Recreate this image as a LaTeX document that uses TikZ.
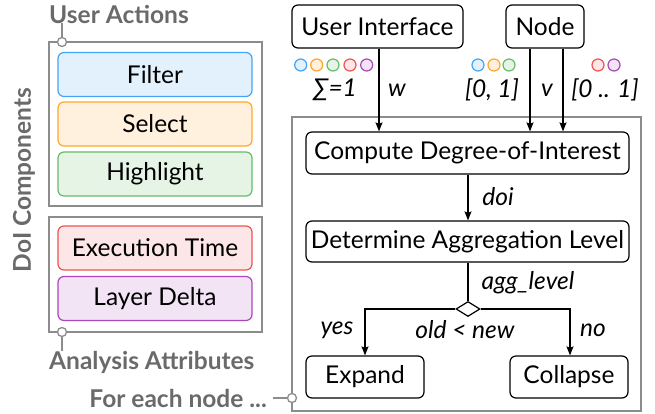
\documentclass[tikz,border=0pt]{standalone}
\usepackage{fontspec}
\setmainfont{Lato}
\usetikzlibrary{arrows.meta,shapes.geometric,positioning}
\definecolor{grp}{HTML}{8C8C8C}
\definecolor{lblgray}{HTML}{6A6A6A}
\definecolor{cblue}{HTML}{42A5F5}\definecolor{fblue}{HTML}{E3F1FC}
\definecolor{corange}{HTML}{FFA726}\definecolor{forange}{HTML}{FFF1DE}
\definecolor{cgreen}{HTML}{66BB6A}\definecolor{fgreen}{HTML}{E6F4E6}
\definecolor{cred}{HTML}{EF5350}\definecolor{fred}{HTML}{FDE6E8}
\definecolor{cpurple}{HTML}{AB47BC}\definecolor{fpurple}{HTML}{F2E3F5}
\tikzset{
  x=1pt, y=-1pt,
  every node/.style={font=\fontsize{24.5}{28}\selectfont, inner sep=0pt},
  procbox/.style={draw, line width=1.2pt, rounded corners=6pt, minimum height=42pt, fill=white},
  compbox/.style={draw, line width=1.2pt, rounded corners=6pt, minimum width=194pt, minimum height=44pt},
  groupbox/.style={draw=grp, line width=1.5pt},
  grouplbl/.style={text=lblgray, font=\fontsize{24.5}{28}\selectfont\bfseries},
  pin/.style={circle, draw=grp, fill=white, line width=1.3pt, minimum size=9pt},
  pinline/.style={draw=grp, line width=1.5pt},
  flow/.style={line width=1.2pt, -{Stealth[length=9pt,width=7pt,inset=1.5pt]}},
  plain/.style={line width=1.2pt},
  dot/.style={circle, line width=1.2pt, minimum size=12pt},
  edgelbl/.style={font=\fontsize{24.5}{28}\selectfont\itshape},
}
\begin{document}
\begin{tikzpicture}
\useasboundingbox (0,0) rectangle (655,414);

% --- DoI components column ---
\draw[groupbox] (49,42) rectangle (262,206);
\draw[groupbox] (49,217) rectangle (262,332);

\node[compbox, draw=cblue, fill=fblue] (filter) at (155,74.5) {Filter};
\node[compbox, draw=corange, fill=forange] (select) at (155,124) {Select};
\node[compbox, draw=cgreen, fill=fgreen] (highlight) at (155,174) {Highlight};
\node[compbox, draw=cred, fill=fred] (exec) at (155,248) {Execution Time};
\node[compbox, draw=cpurple, fill=fpurple] (delta) at (155,298.5) {Layer Delta};

\node[grouplbl, rotate=90] (doic) at (24,180) {DoI Components};

\node[grouplbl, anchor=west] (ua) at (49,14) {User Actions};
\coordinate (uapin) at (62,42);
\draw[pinline] (ua.south -| uapin) -- (uapin);
\node[pin] (uac) at (uapin) {};

\node[grouplbl, anchor=west] (aa) at (49,362) {Analysis Attributes};
\coordinate (aapin) at (62,332);
\draw[pinline] (aa.north -| aapin) -- (aapin);
\node[pin] (aac) at (aapin) {};

% --- per-node pipeline ---
\draw[groupbox] (292,117) rectangle (641,411);
\node[grouplbl, anchor=east] (each) at (267,398) {For each node ...};
\coordinate (eachpin) at (292,398);
\draw[pinline] ([xshift=6pt]each.east) -- (eachpin);
\node[pin] (eachc) at (eachpin) {};

\node[procbox, minimum width=171pt, minimum height=43pt] (ui) at (377.5,26.5) {User Interface};
\node[procbox, minimum width=78pt, minimum height=43pt] (nd) at (545,26.5) {Node};

\node[procbox, minimum width=323pt] (cdoi) at (467.5,153) {Compute Degree-of-Interest};
\node[procbox, minimum width=323pt, minimum height=41pt] (agg) at (467.5,241.5) {Determine Aggregation Level};
\node[procbox, minimum width=118pt] (expand) at (365,377) {Expand};
\node[procbox, minimum width=118pt] (collapse) at (569,377) {Collapse};

\draw[flow] ([xshift=1.5pt]ui.south) -- ([xshift=1.5pt]ui.south |- cdoi.north);
\draw[flow] ([xshift=-15pt]nd.south) -- ([xshift=-15pt]nd.south |- cdoi.north);
\draw[flow] ([xshift=18pt]nd.south) -- ([xshift=18pt]nd.south |- cdoi.north);
\draw[flow] ([xshift=0.5pt]cdoi.south) -- ([xshift=0.5pt]cdoi.south |- agg.north);

\node[diamond, draw, fill=white, line width=1.2pt, minimum width=24pt, minimum height=15pt] (dec) at (468,309) {};
\draw[plain] (agg.south -| dec) -- (dec.north);
\draw[flow] (dec.west) -| (expand.north);
\draw[flow] (dec.east) -| ([xshift=1pt]collapse.north);

% --- edge labels ---
\node[edgelbl] (lw) at (397,90) {w};
\node[edgelbl] (lv) at (547,90) {v};
\node[edgelbl] (lsum) at (335,90) {∑=1};
\node[edgelbl] (lunit) at (492,90) {[0, 1]};
\node[edgelbl] (lrange) at (605,90) {[0 .. 1]};
\node[edgelbl] (ldoi) at (498,197) {doi};
\node[edgelbl] (lagg) at (528,283) {agg\_level};
\node[edgelbl] (lyes) at (337,330) {yes};
\node[edgelbl] (lcmp) at (465,330) {old < new};
\node[edgelbl] (lno) at (593,330) {no};

% --- colour keys of the weights ---
\node[dot, draw=cblue, fill=fblue] (w1) at (300.7,65) {};
\node[dot, draw=corange, fill=forange] (w2) at (316.7,65) {};
\node[dot, draw=cgreen, fill=fgreen] (w3) at (333,65) {};
\node[dot, draw=cred, fill=fred] (w4) at (350,65) {};
\node[dot, draw=cpurple, fill=fpurple] (w5) at (366.7,65) {};
\node[dot, draw=cblue, fill=fblue] (u1) at (478,65) {};
\node[dot, draw=corange, fill=forange] (u2) at (494,65) {};
\node[dot, draw=cgreen, fill=fgreen] (u3) at (509,65) {};
\node[dot, draw=cred, fill=fred] (r1) at (598,65) {};
\node[dot, draw=cpurple, fill=fpurple] (r2) at (614,65) {};
\end{tikzpicture}
\end{document}
